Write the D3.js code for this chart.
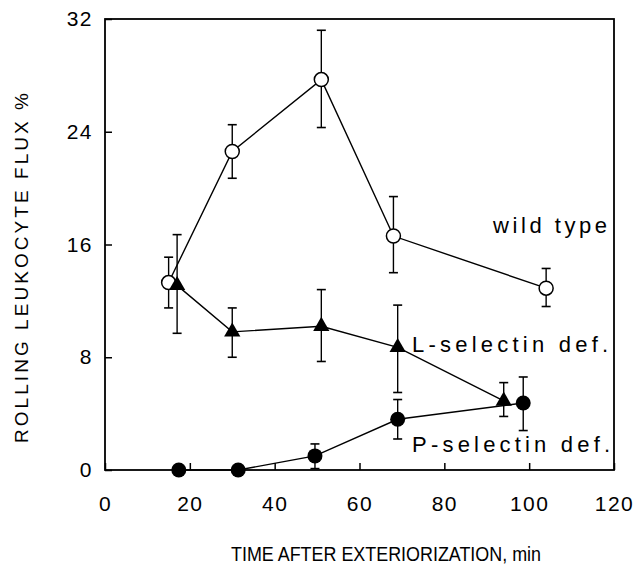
<!DOCTYPE html>
<html>
<head>
<meta charset="utf-8">
<script src="https://cdn.jsdelivr.net/npm/d3@7"></script>
<style>
  body { margin: 0; background: #fff; }
  text { font-family: "Liberation Sans", Arial, sans-serif; fill: #000; }
</style>
</head>
<body>
<div id="chart"></div>
<script>
// x = minutes after exteriorization, y = rolling flux %, lo/hi = error bar ends
var wildX = [15, 30, 51, 68, 104];
var wildY = [13.3, 22.6, 27.7, 16.6, 12.9];
var wildLo = [11.5, 20.7, 24.3, 14.0, 11.6];
var wildHi = [15.1, 24.5, 31.2, 19.4, 14.3];

var lselX = [17, 30, 51, 69, 94];
var lselY = [13.1, 9.8, 10.2, 8.7, 4.9];
var lselLo = [9.7, 8.0, 7.7, 5.5, 3.8];
var lselHi = [16.7, 11.5, 12.8, 11.7, 6.2];

var pselX = [17.4, 31.4, 49.5, 69, 98.6];
var pselY = [0, 0, 1.0, 3.6, 4.75];
var pselLo = [0, 0, 0.1, 2.2, 2.8];
var pselHi = [0, 0, 1.85, 5.0, 6.6];

var xTicks = [0, 20, 40, 60, 80, 100, 120];
var yTicks = [0, 8, 16, 24, 32];

var margins = { top: 19, right: 22, bottom: 99, left: 105 };
var width = 636 - margins.left - margins.right;
var height = 569 - margins.top - margins.bottom;

var svg = d3.select("#chart")
  .append("svg")
  .attr("width", 636)
  .attr("height", 569)
  .append("g")
  .attr("transform", "translate(" + margins.left + "," + margins.top + ")");

var x = d3.scaleLinear().domain([0, 120]).range([0, width]);
var y = d3.scaleLinear().domain([0, 32]).range([height, 0]);

// axes with inward ticks
var xAxis = svg.append("g").attr("transform", "translate(0," + height + ")")
  .call(d3.axisBottom(x).tickValues(xTicks).tickSizeInner(-7).tickSizeOuter(0).tickPadding(26));
var yAxis = svg.append("g")
  .call(d3.axisLeft(y).tickValues(yTicks).tickSizeInner(-7).tickSizeOuter(0).tickPadding(12));
[xAxis, yAxis].forEach(function (a) {
  a.select(".domain").remove();
  a.selectAll("line").attr("stroke", "#000").attr("stroke-width", 1.5);
  a.selectAll("text").style("font-size", "21px").style("letter-spacing", "1.5px")
    .style("font-family", "'Liberation Sans', Arial, sans-serif");
});

svg.append("rect")
  .attr("width", width).attr("height", height)
  .attr("fill", "none").attr("stroke", "#000").attr("stroke-width", 1.8);

function drawSeries(xs, ys, lo, hi, marker) {
  var pts = xs.map(function (d, i) { return { x: d, y: ys[i], lo: lo[i], hi: hi[i] }; });
  var g = svg.append("g");
  g.append("path").datum(pts)
    .attr("fill", "none").attr("stroke", "#000").attr("stroke-width", 1.4)
    .attr("d", d3.line().x(function (d) { return x(d.x); }).y(function (d) { return y(d.y); }));

  var eb = g.selectAll(".eb").data(pts.filter(function (d) { return d.hi > d.lo; }))
    .enter().append("g");
  eb.append("line")
    .attr("x1", function (d) { return x(d.x); }).attr("x2", function (d) { return x(d.x); })
    .attr("y1", function (d) { return y(d.lo); }).attr("y2", function (d) { return y(d.hi); })
    .attr("stroke", "#000").attr("stroke-width", 1.4);
  ["lo", "hi"].forEach(function (k) {
    eb.append("line")
      .attr("x1", function (d) { return x(d.x) - 4.5; }).attr("x2", function (d) { return x(d.x) + 4.5; })
      .attr("y1", function (d) { return y(d[k]); }).attr("y2", function (d) { return y(d[k]); })
      .attr("stroke", "#000").attr("stroke-width", 1.6);
  });

  var m = g.selectAll(".m").data(pts).enter();
  if (marker == "open") {
    m.append("circle").attr("cx", function (d) { return x(d.x); }).attr("cy", function (d) { return y(d.y); })
      .attr("r", 7).attr("fill", "#fff").attr("stroke", "#000").attr("stroke-width", 1.5);
  } else if (marker == "dot") {
    m.append("circle").attr("cx", function (d) { return x(d.x); }).attr("cy", function (d) { return y(d.y); })
      .attr("r", 7.5).attr("fill", "#000");
  } else {
    m.append("path").attr("d", d3.symbol().type(d3.symbolTriangle).size(115))
      .attr("transform", function (d) { return "translate(" + x(d.x) + "," + y(d.y) + ")"; })
      .attr("fill", "#000");
  }
}

drawSeries(wildX, wildY, wildLo, wildHi, "open");
drawSeries(lselX, lselY, lselLo, lselHi, "tri");
drawSeries(pselX, pselY, pselLo, pselHi, "dot");

// series labels
svg.append("text").attr("x", x(91.5)).attr("y", y(16.8)).style("font-size", "22px")
  .attr("textLength", 114).attr("lengthAdjust", "spacing").text("wild type");
svg.append("text").attr("x", x(72.4)).attr("y", y(8.37)).style("font-size", "22px")
  .attr("textLength", 196).attr("lengthAdjust", "spacing").text("L-selectin def.");
svg.append("text").attr("x", x(72.4)).attr("y", y(1.28)).style("font-size", "22px")
  .attr("textLength", 198).attr("lengthAdjust", "spacing").text("P-selectin def.");

// axis titles
svg.append("text").attr("x", 386 - margins.left).attr("y", 561 - margins.top)
  .style("text-anchor", "middle").style("font-size", "20px")
  .attr("textLength", 310).attr("lengthAdjust", "spacingAndGlyphs")
  .text("TIME AFTER EXTERIORIZATION, min");
svg.append("text").attr("transform", "translate(" + (28 - margins.left) + "," + (268 - margins.top) + ") rotate(-90)")
  .style("text-anchor", "middle").style("font-size", "19px")
  .attr("textLength", 350).attr("lengthAdjust", "spacing")
  .text("ROLLING LEUKOCYTE FLUX %");
</script>
</body>
</html>
